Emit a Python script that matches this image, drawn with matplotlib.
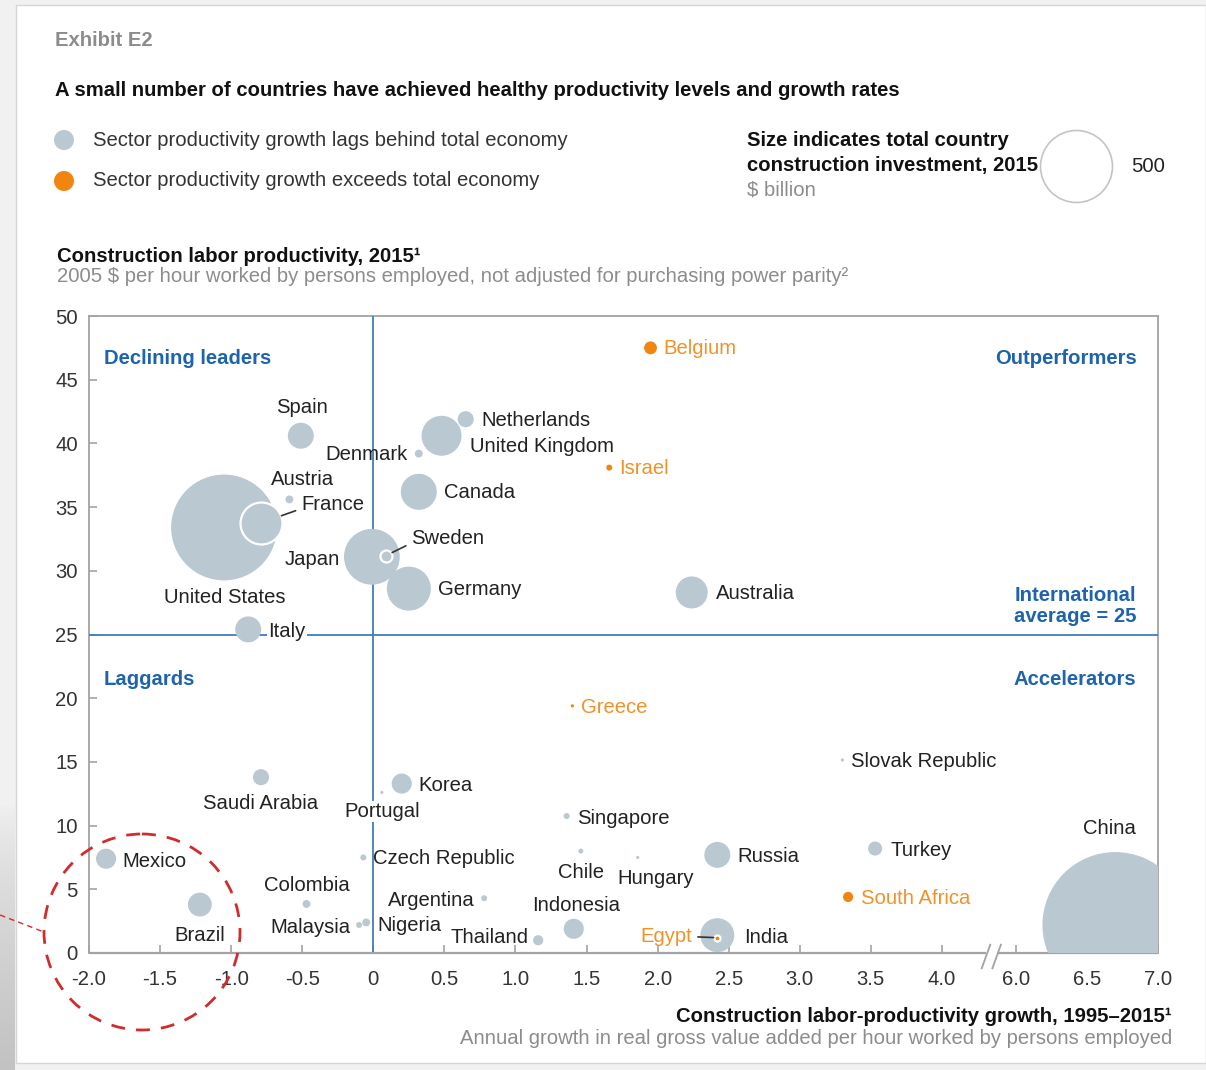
import matplotlib
matplotlib.use("Agg")
import matplotlib.pyplot as plt
import numpy as np
from matplotlib.patches import Rectangle, Ellipse

plt.rcParams['font.family'] = ['Liberation Sans', 'DejaVu Sans']

countries = ['United States', 'China', 'Japan', 'Germany', 'France', 'United Kingdom',
             'Canada', 'India', 'Australia', 'Spain', 'Italy', 'Russia', 'Brazil',
             'Mexico', 'Korea', 'Indonesia', 'Netherlands', 'Saudi Arabia', 'Turkey',
             'Belgium', 'Sweden', 'South Africa', 'Thailand', 'Denmark', 'Austria',
             'Colombia', 'Nigeria', 'Israel', 'Singapore', 'Czech Republic', 'Argentina',
             'Malaysia', 'Egypt', 'Chile', 'Greece', 'Slovak Republic', 'Portugal', 'Hungary']
growth = [-1.05, 6.7, -0.01, 0.25, -0.79, 0.48,
          0.32, 2.42, 2.24, -0.51, -0.88, 2.42, -1.22,
          -1.88, 0.20, 1.41, 0.65, -0.79, 3.53,
          1.95, 0.09, 3.34, 1.16, 0.32, -0.59,
          -0.47, -0.05, 1.66, 1.36, -0.07, 0.78,
          -0.10, 2.42, 1.46, 1.40, 3.30, 0.06, 1.86]
productivity = [33.4, 2.2, 31.1, 28.6, 33.75, 40.6,
                36.2, 1.4, 28.3, 40.6, 25.4, 7.7, 3.8,
                7.4, 13.3, 1.9, 41.9, 13.8, 8.2,
                47.5, 31.2, 4.4, 1.0, 39.2, 35.6,
                3.85, 2.4, 38.1, 10.75, 7.5, 4.3,
                2.2, 1.2, 8.0, 19.4, 15.15, 12.6, 7.5]
investment = [1080, 2050, 300, 187, 170, 154,
              125, 111, 99, 65, 65, 65, 55,
              39, 39, 39, 25, 25, 19,
              16, 14, 10, 10, 6, 6,
              6, 6, 3.5, 3.5, 3.5, 3.5,
              3.5, 3.5, 2.4, 1, 1, 1, 1]
exceeds_economy = ['Belgium', 'Israel', 'Greece', 'South Africa', 'Egypt']

international_average = 25
legend_size = 500

x_ticks = [-2.0, -1.5, -1.0, -0.5, 0.0, 0.5, 1.0, 1.5, 2.0, 2.5, 3.0, 3.5, 4.0, 6.0, 6.5, 7.0]
x_tick_labels = ['-2.0', '-1.5', '-1.0', '-0.5', '0', '0.5', '1.0', '1.5', '2.0', '2.5',
                 '3.0', '3.5', '4.0', '6.0', '6.5', '7.0']
y_ticks = [0, 5, 10, 15, 20, 25, 30, 35, 40, 45, 50]

# ---------------- styling ----------------
GREY_DOT = '#bac8d1'
ORANGE = '#f0860f'
ORANGE_TXT = '#f0922a'
BLUE = '#3f7dbd'
BLUE_TXT = '#1e63ad'
SPINE = '#a3a3a3'
TXT = '#222222'
SUB = '#8c8c8c'
FS = 14.6
BREAK_SHIFT = 1.48          # 6.0 on the real axis sits at 4.52 on the drawn axis
SCALE = (36 * 1.44) ** 2 / legend_size   # 500 bn -> circle of 36 px radius

def to_disp(x):
    x = np.asarray(x, dtype=float)
    return np.where(x > 5, x - BREAK_SHIFT, x)

# label placement: offset in pixels (right, down) and alignment
label_pos = {
    'Belgium': (13, 1, 'left'), 'Spain': (1, -28, 'center'),
    'Netherlands': (16, 1, 'left'), 'United Kingdom': (28, 11, 'left'),
    'Denmark': (-11, 1, 'right'), 'Israel': (10, 1, 'left'),
    'Austria': (13, -20, 'center'), 'France': (40, -19, 'left'),
    'United States': (1, 70, 'center'), 'Canada': (25, 1, 'left'),
    'Japan': (-32, 3, 'right'), 'Sweden': (25, -17, 'left'),
    'Germany': (29, 1, 'left'), 'Australia': (24, 1, 'left'),
    'Italy': (20, 2, 'left'), 'Greece': (9, 2, 'left'),
    'Slovak Republic': (9, 2, 'left'), 'Saudi Arabia': (0, 26, 'center'),
    'Korea': (17, 2, 'left'), 'Portugal': (0, 19, 'center'),
    'Singapore': (10, 2, 'left'), 'Czech Republic': (10, 1, 'left'),
    'Chile': (0, 21, 'center'), 'Hungary': (18, 21, 'center'),
    'Russia': (20, 2, 'left'), 'Turkey': (15, 2, 'left'),
    'South Africa': (13, 2, 'left'), 'Mexico': (16, 3, 'left'),
    'Brazil': (0, 31, 'center'), 'Colombia': (0, -18, 'center'),
    'Argentina': (-9, 2, 'right'), 'Malaysia': (-9, 3, 'right'),
    'Nigeria': (11, 3, 'left'), 'Indonesia': (2, -23, 'center'),
    'Thailand': (-10, -3, 'right'), 'India': (27, 2, 'left'),
    'Egypt': (-25, -1, 'right'), 'China': (-6, -96, 'center'),
}
leaders = {'France': (0, 0.25), 'Sweden': (0, 0.25), 'Egypt': (1, 0.5)}
outlined = ['France', 'Sweden', 'Egypt']
masked_labels = ['Italy', 'Portugal']

W, H = 1206, 1070
fig = plt.figure(figsize=(W / 100, H / 100), dpi=100)
fig.patch.set_facecolor('#f1f1f1')

# background card + header, in pixel coordinates
bg = fig.add_axes([0, 0, 1, 1], zorder=0)
bg.axis('off')
bg.add_patch(Rectangle((16, 5), W - 16, 1058, facecolor='white', edgecolor='#d6d6d6', lw=1))
# soft shadow down the lower left edge
t = np.linspace(0, 1, 120)[:, None, None] ** 0.7
c0 = np.array([0xf1, 0xf1, 0xf1]) / 255
c1 = np.array([0xc2, 0xc2, 0xc2]) / 255
shade = (c0 + (c1 - c0) * t) * np.ones((1, 4, 1))
bg.imshow(shade, extent=(0, 15, 1070, 805), aspect='auto', interpolation='bilinear')
bg.set_xlim(0, W)
bg.set_ylim(H, 0)

bg.text(55, 40, 'Exhibit E2', fontsize=FS, fontweight='bold', color=SUB, va='center')
bg.text(55, 90, 'A small number of countries have achieved healthy productivity levels and growth rates',
        fontsize=FS, fontweight='bold', color='#111111', va='center')
bg.scatter([64, 64], [140, 181], s=(20 * 0.72) ** 2, c=[GREY_DOT, ORANGE], linewidths=0)
bg.text(93, 140, 'Sector productivity growth lags behind total economy', fontsize=FS, color='#333333', va='center')
bg.text(93, 181, 'Sector productivity growth exceeds total economy', fontsize=FS, color='#333333', va='center')
bg.text(747, 141, 'Size indicates total country', fontsize=FS, fontweight='bold', color='#111111', va='center')
bg.text(747, 165, 'construction investment, 2015', fontsize=FS, fontweight='bold', color='#111111', va='center')
bg.text(747, 190, '$ billion', fontsize=FS, color=SUB, va='center')
bg.scatter([1076], [166], s=legend_size * SCALE, facecolor='white', edgecolor='#c4c4c4', linewidths=1.2)
bg.text(1131, 167, str(legend_size), fontsize=FS, color='#222222', va='center')
bg.text(57, 256, 'Construction labor productivity, 2015\u00b9', fontsize=FS, fontweight='bold',
        color='#111111', va='center')
bg.text(57, 277, '2005 $ per hour worked by persons employed, not adjusted for purchasing power parity\u00b2',
        fontsize=FS, color=SUB, va='center')
bg.text(1172, 1017, 'Construction labor-productivity growth, 1995\u20132015\u00b9', fontsize=FS,
        fontweight='bold', color='#111111', va='center', ha='right')
bg.text(1172, 1038, 'Annual growth in real gross value added per hour worked by persons employed',
        fontsize=FS, color=SUB, va='center', ha='right')

# ---------------- main chart ----------------
ax = fig.add_axes([89 / W, 1 - 953 / H, (1158 - 89) / W, (953 - 316) / H], zorder=1)
ax.set_facecolor('white')
ax.set_xlim(-2.0, 7.0 - BREAK_SHIFT)
ax.set_ylim(0, 50)

for s in ['left', 'top', 'right']:
    ax.spines[s].set_color(SPINE)
    ax.spines[s].set_linewidth(1.3)
    ax.spines[s].set_zorder(1.5)
ax.spines['bottom'].set_visible(False)
gap_l, gap_r = 4.31, 4.39
ax.plot([-2.0, gap_l], [0, 0], color=SPINE, lw=1.6, clip_on=False, zorder=2.5, solid_capstyle='butt')
ax.plot([gap_r, 7.0 - BREAK_SHIFT], [0, 0], color=SPINE, lw=1.6, clip_on=False, zorder=2.5,
        solid_capstyle='butt')
for xc in [4.31, 4.385]:
    ax.plot([xc - 0.03, xc + 0.03], [-1.2, 0.65], color=SPINE, lw=1.3, clip_on=False, zorder=2.5)

ax.set_xticks(to_disp(x_ticks))
ax.set_xticklabels(x_tick_labels)
ax.set_yticks(y_ticks)
ax.tick_params(axis='both', direction='in', length=6, width=1.2, color=SPINE,
               labelsize=FS, labelcolor='#333333')
ax.tick_params(axis='y', pad=8)
ax.tick_params(axis='x', pad=12)

ax.axvline(0, color=BLUE, lw=1.3, zorder=2)
ax.axhline(international_average, color=BLUE, lw=1.3, zorder=2)

# bubbles: biggest first so smaller ones sit on top
xd = to_disp(growth)
order = np.argsort(investment)[::-1]
for i in order:
    name = countries[i]
    col = ORANGE if name in exceeds_economy else GREY_DOT
    edge = 'white' if name in outlined else 'none'
    ax.scatter(xd[i], productivity[i], s=investment[i] * SCALE, color=col,
               edgecolors=edge, linewidths=1.6 if name in outlined else 0, zorder=3)

for i, name in enumerate(countries):
    dx, dy, ha = label_pos[name]
    col = ORANGE_TXT if name in exceeds_economy else TXT
    kw = {}
    if name in masked_labels:
        kw['bbox'] = dict(facecolor='white', edgecolor='none', pad=1)
    if name in leaders:
        r_pt = np.sqrt(investment[i] * SCALE) / 2
        kw['arrowprops'] = dict(arrowstyle='-', color='#333333', lw=1.2, relpos=leaders[name],
                                shrinkA=2, shrinkB=r_pt + 0.5)
    ax.annotate(name, (xd[i], productivity[i]), xytext=(dx, -dy), textcoords='offset pixels',
                ha=ha, va='center', fontsize=FS, color=col, zorder=4, **kw)

quad = dict(fontsize=FS, fontweight='bold', color=BLUE_TXT, transform=ax.transAxes, va='center')
ax.text(0.014, 0.9325, 'Declining leaders', ha='left', **quad)
ax.text(0.980, 0.9325, 'Outperformers', ha='right', **quad)
ax.text(0.980, 0.545, 'International\naverage = 25', ha='right', linespacing=1.15, **quad)
ax.text(0.014, 0.430, 'Laggards', ha='left', **quad)
ax.text(0.980, 0.430, 'Accelerators', ha='right', **quad)

# ---------------- red dashed highlight on top ----------------
top = fig.add_axes([0, 0, 1, 1], zorder=5)
top.set_xlim(0, W)
top.set_ylim(H, 0)
top.axis('off')
top.patch.set_alpha(0)
top.add_patch(Ellipse((142, 932), 196, 196, fill=False, edgecolor='#d22b2b', lw=2,
                      linestyle=(0, (5, 4))))
top.plot([0, 44], [915, 932], color='#d22b2b', lw=1, linestyle=(0, (4, 3)))

fig.savefig('out.png', dpi=100, facecolor=fig.get_facecolor())
